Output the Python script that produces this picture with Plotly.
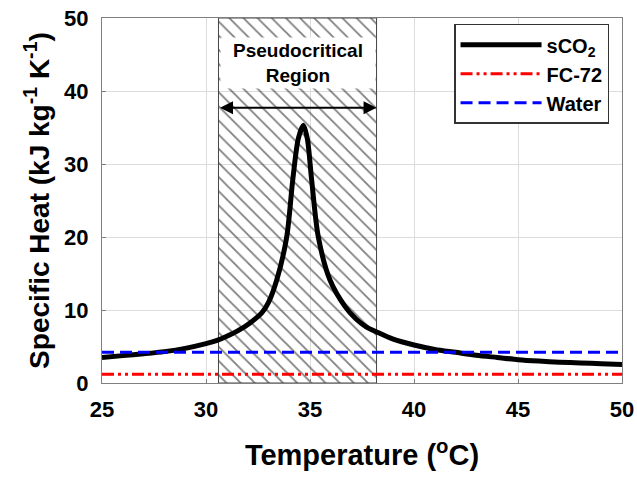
import plotly.graph_objects as go

# sCO2 specific heat
t_sco2 = [25, 26, 27, 28, 29, 30, 30.5, 31, 31.5, 32.1, 32.68, 33.0, 33.4, 33.88, 34.17, 34.44,
          34.68, 34.87, 35.08, 35.4, 35.96, 36.68, 37.2, 37.7, 38.2, 39, 40, 41, 42,
          43, 44, 45, 46, 47, 48, 49, 50]
cp_sco2 = [3.5, 3.75, 4.0, 4.3, 4.75, 5.4, 5.8, 6.4, 7.1, 8.2, 9.6, 11.0, 14.1, 20.0, 27.8, 33.5,
           35.3, 33.5, 27.8, 20.0, 14.1, 10.5, 8.8, 7.7, 7.0, 6.0, 5.2, 4.6, 4.2,
           3.8, 3.5, 3.2, 3.0, 2.85, 2.75, 2.65, 2.55]

t_const = [25, 50]
cp_fc72 = [1.2, 1.2]
cp_water = [4.2, 4.2]

region_t = [30.6, 38.2]
arrow_y = 37.7

x_ticks = [25, 30, 35, 40, 45, 50]
y_ticks = [0, 10, 20, 30, 40, 50]

FONT = "Liberation Sans, Arial, sans-serif"

fig = go.Figure()

# hatched pseudocritical region
fig.add_trace(go.Scatter(
    x=[region_t[0], region_t[1], region_t[1], region_t[0], region_t[0]],
    y=[0, 0, 50, 50, 0],
    mode="lines", fill="toself",
    fillcolor="rgba(0,0,0,0)",
    fillpattern=dict(shape="\\", fgcolor="#000000", bgcolor="rgba(0,0,0,0)", size=10, solidity=0.18),
    line=dict(color="#444444", width=1),
    showlegend=False, hoverinfo="skip",
))

fig.add_trace(go.Scatter(
    x=t_sco2, y=cp_sco2, mode="lines", name="sCO<sub>2</sub>",
    line=dict(color="black", width=5, shape="spline", smoothing=0.8),
))
fig.add_trace(go.Scatter(
    x=t_const, y=cp_fc72, mode="lines", name="FC-72",
    line=dict(color="#ff0000", width=3, dash="12px,4px,3px,4px,3px,4px"),
))
fig.add_trace(go.Scatter(
    x=t_const, y=cp_water, mode="lines", name="Water",
    line=dict(color="#0000ff", width=3, dash="12px,6px"),
))

# label box
fig.add_annotation(
    x=(region_t[0] + region_t[1]) / 2, y=43.9, xref="x", yref="y",
    text="<b>Pseudocritical<br>Region</b>", showarrow=False,
    font=dict(family=FONT, size=19, color="black"),
    bgcolor="white", width=152, height=48,
)
# double arrow
fig.add_annotation(
    x=region_t[1], y=arrow_y, ax=region_t[0], ay=arrow_y,
    xref="x", yref="y", axref="x", ayref="y",
    text="", showarrow=True, arrowhead=2, startarrowhead=2, arrowside="end+start",
    arrowsize=1.3, startarrowsize=1.3, arrowwidth=2, arrowcolor="black",
)

axis_common = dict(
    showgrid=True, gridcolor="#dcdcdc", gridwidth=1,
    showline=True, linecolor="#7f7f7f", linewidth=1, mirror=True,
    ticks="inside", ticklen=4, tickcolor="#7f7f7f",
    tickfont=dict(family=FONT, size=22, color="black", weight="bold"),
    zeroline=False, automargin=False,
)

fig.update_layout(
    width=637, height=477,
    margin=dict(l=102, r=15, t=18, b=94),
    paper_bgcolor="white", plot_bgcolor="white",
    xaxis=dict(range=[25, 50], tickvals=x_ticks, ticklabelstandoff=7,
               title=dict(text="<b>Temperature (<sup>o</sup>C)</b>", font=dict(family=FONT, size=29, color="black"), standoff=23),
               **axis_common),
    yaxis=dict(range=[0, 50], tickvals=y_ticks, ticklabelstandoff=8,
               title=dict(text="<b>Specific Heat (kJ kg<sup>-1</sup> K<sup>-1</sup>)</b>", font=dict(family=FONT, size=28, color="black"), standoff=6),
               **axis_common),
    legend=dict(x=0.677, y=0.984, xanchor="left", yanchor="top",
                bgcolor="white", bordercolor="#333333", borderwidth=1.5,
                font=dict(family=FONT, size=20, color="black", weight="bold"),
                itemwidth=81, tracegroupgap=0),
    showlegend=True,
)

fig.write_html("out.html")
